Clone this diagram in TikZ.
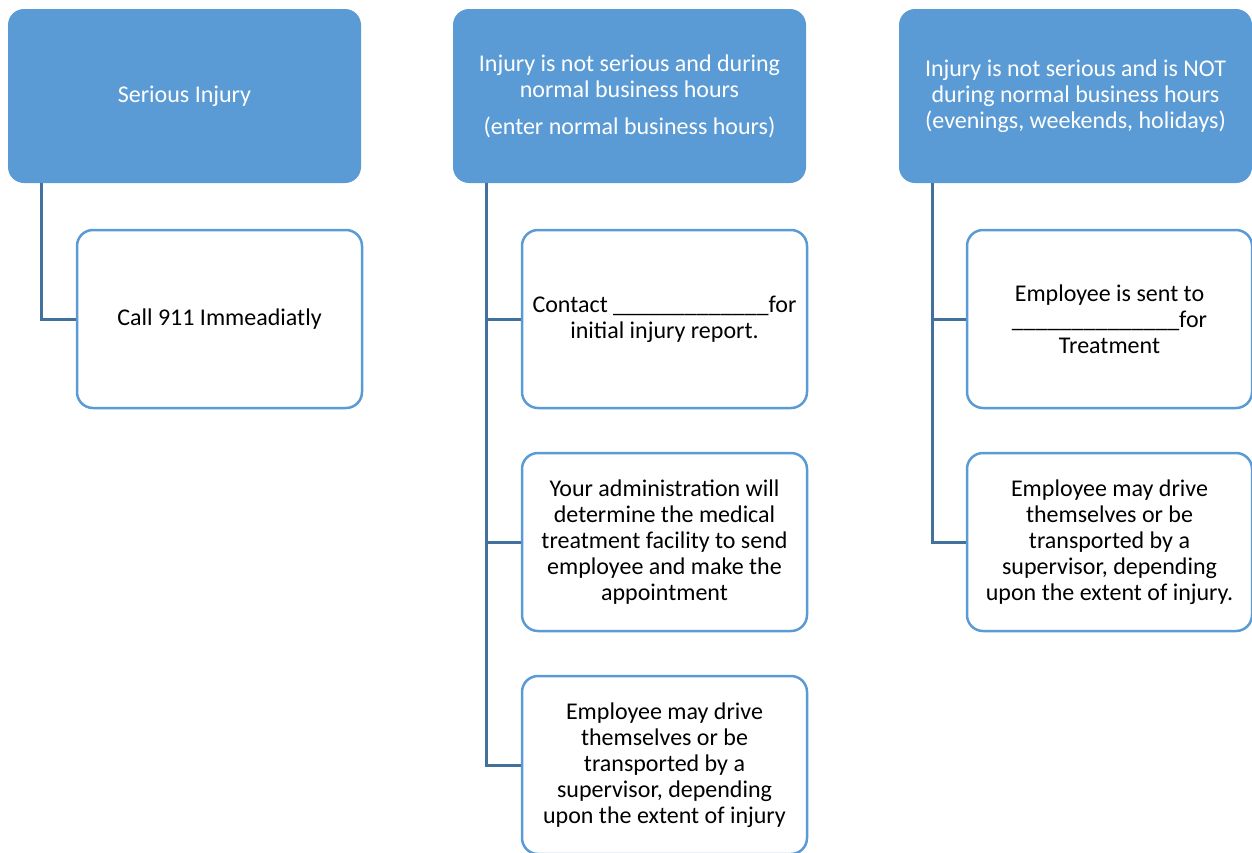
\documentclass[tikz,border=0pt]{standalone}
\usepackage{fontspec}
\setmainfont{Carlito}
\definecolor{hdr}{HTML}{5B9BD5}
\definecolor{connc}{HTML}{41719C}
\newcommand\uu{\char95\relax}
\begin{document}
\begin{tikzpicture}[x=1pt,y=-1pt,
  hdrbox/.style={fill=hdr, draw=none, rounded corners=16pt, minimum width=353pt, minimum height=174pt,
    text=white, align=center, inner sep=0pt, font=\fontsize{24}{26}\selectfont},
  childbox/.style={draw=hdr, line width=2.5pt, fill=white, rounded corners=16pt, minimum width=285pt,
    minimum height=178pt, align=center, inner sep=0pt, font=\fontsize{24}{26}\selectfont},
  connline/.style={draw=connc, line width=3pt}]
\path[use as bounding box] (0,0) rectangle (1252,852);
\clip (0,0) rectangle (1252,852);
\node[hdrbox] (h1) at (184.5,96) {Serious Injury};
\node[hdrbox] (h2) at (629.5,96) {Injury is not serious and during\\normal business hours\\[11pt](enter normal business hours)};
\node[hdrbox] (h3) at (1075.5,96) {Injury is not serious and is NOT\\during normal business hours\\(evenings, weekends, holidays)};
\node[childbox] (c1) at (219.5,319) {Call 911 Immeadiatly};
\node[childbox] (c2a) at (664.5,319) {Contact \uu\uu\uu\uu\uu\uu\uu\uu\uu\uu\uu\uu\uu for\\initial injury report.};
\node[childbox] (c2b) at (664.5,542) {Your administration will\\determine the medical\\treatment facility to send\\employee and make the\\appointment};
\node[childbox] (c2c) at (664.5,765) {Employee may drive\\themselves or be\\transported by a\\supervisor, depending\\upon the extent of injury};
\node[childbox] (c3a) at (1109.5,319) {Employee is sent to\\\uu\uu\uu\uu\uu\uu\uu\uu\uu\uu\uu\uu\uu\uu for\\Treatment};
\node[childbox] (c3b) at (1109.5,542) {Employee may drive\\themselves or be\\transported by a\\supervisor, depending\\upon the extent of injury.};
\draw[connline] ([xshift=34pt]h1.south west) |- (c1.west);
\draw[connline] ([xshift=34pt]h2.south west) |- (c2c.west);
\draw[connline] ([xshift=34pt]h2.south west |- c2a.west) -- (c2a.west);
\draw[connline] ([xshift=34pt]h2.south west |- c2b.west) -- (c2b.west);
\draw[connline] ([xshift=34pt]h3.south west) |- (c3b.west);
\draw[connline] ([xshift=34pt]h3.south west |- c3a.west) -- (c3a.west);
\end{tikzpicture}
\end{document}
